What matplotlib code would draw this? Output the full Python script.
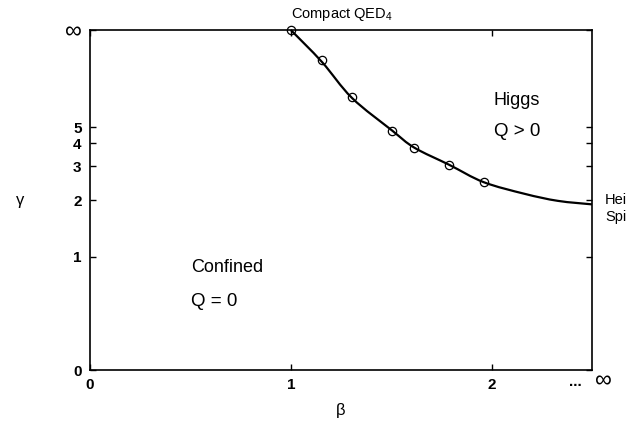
import matplotlib
matplotlib.use("Agg")
import matplotlib.pyplot as plt
from matplotlib.path import Path
from matplotlib.patches import PathPatch
import numpy as np

plt.rcParams['font.family'] = ['Liberation Sans', 'DejaVu Sans']
plt.rcParams['mathtext.fontset'] = 'custom'
plt.rcParams['mathtext.rm'] = 'Liberation Sans'
plt.rcParams['mathtext.it'] = 'Liberation Sans:italic'

# data points (beta, gamma), gamma = inf at the top
pt_beta = [1.0, 1.155, 1.305, 1.505, 1.615, 1.79, 1.96]
pt_gamma = [np.inf, 20.7, 8.15, 4.76, 3.76, 3.04, 2.47]

# fitted transition line
curve_beta = [1.0, 1.155, 1.305, 1.505, 1.615, 1.79, 1.96, 2.165, 2.33, 2.5]
curve_gamma = [np.inf, 19.3, 8.0, 4.76, 3.78, 3.04, 2.47, 2.15, 1.98, 1.90]

x_ticks = [0, 1, 2]
y_ticks = [0, 1, 2, 3, 4, 5, np.inf]
y_labels = ['0', '1', '2', '3', '4', '5', '∞']


def squash(g):
    # compact gamma axis: 0 -> 0, inf -> 1
    g = np.asarray(g, dtype=float)
    return 1 - 2 / (g + 2)


def smooth_path(xs, ys):
    # catmull-rom through the points, drawn as cubic bezier pieces
    p = np.column_stack([xs, ys])
    p = np.vstack([p[0], p, p[-1]])
    verts = [p[1]]
    codes = [Path.MOVETO]
    for i in range(1, len(p) - 2):
        c1 = p[i] + (p[i + 1] - p[i - 1]) / 6
        c2 = p[i + 1] - (p[i + 2] - p[i]) / 6
        verts += [c1, c2, p[i + 1]]
        codes += [Path.CURVE4] * 3
    return Path(verts, codes)


fig = plt.figure(figsize=(6.41, 4.30), dpi=100)
ax = fig.add_axes([90 / 641, 60 / 430, 502 / 641, 340 / 430])

line = PathPatch(smooth_path(curve_beta, squash(curve_gamma)), fc='none', ec='black',
                 lw=1.6, clip_on=False, zorder=3)
ax.add_patch(line)
ax.plot(pt_beta, squash(pt_gamma), 'o', mfc='none', mec='black', ms=6, mew=0.9,
        clip_on=False, zorder=4)

ax.set_xlim(0, 2.5)
ax.set_ylim(0, 1)
ax.set_xticks(x_ticks)
ax.set_xticklabels([str(v) for v in x_ticks])
ax.set_yticks(squash(y_ticks))
ax.set_yticklabels(y_labels)

ax.tick_params(direction='in', length=4, width=1, top=True, right=True,
               labelsize=11, pad=6)
for lab in ax.get_xticklabels() + ax.get_yticklabels():
    if lab.get_text() == '∞':
        lab.set_fontsize(17)
    else:
        lab.set_fontweight('bold')
for sp in ax.spines.values():
    sp.set_linewidth(1.2)

ax.set_xlabel('β', fontsize=12, labelpad=8)
ax.set_ylabel('γ', fontsize=12, rotation=0, labelpad=32, va='center')

ax.text(2.385, -0.035, '...', fontsize=11, fontweight='bold', ha='left', va='center',
        clip_on=False)
ax.text(2.515, -0.033, '∞', fontsize=17, ha='left', va='center', clip_on=False)

ax.text(1.0, 1.02, 'Compact QED$_4$', fontsize=10.5, ha='left', va='bottom', clip_on=False)
ax.text(2.01, 0.794, 'Higgs', fontsize=13, ha='left', va='center')
ax.text(2.01, 0.70, 'Q > 0', fontsize=13.5, ha='left', va='center')
ax.text(0.505, 0.30, 'Confined', fontsize=13, ha='left', va='center')
ax.text(0.505, 0.20, 'Q = 0', fontsize=13.5, ha='left', va='center')
ax.text(2.565, 0.50, 'Hei', fontsize=10.5, ha='left', va='center', clip_on=False)
ax.text(2.565, 0.45, 'Spi', fontsize=10.5, ha='left', va='center', clip_on=False)

fig.savefig('out.png', dpi=100)
